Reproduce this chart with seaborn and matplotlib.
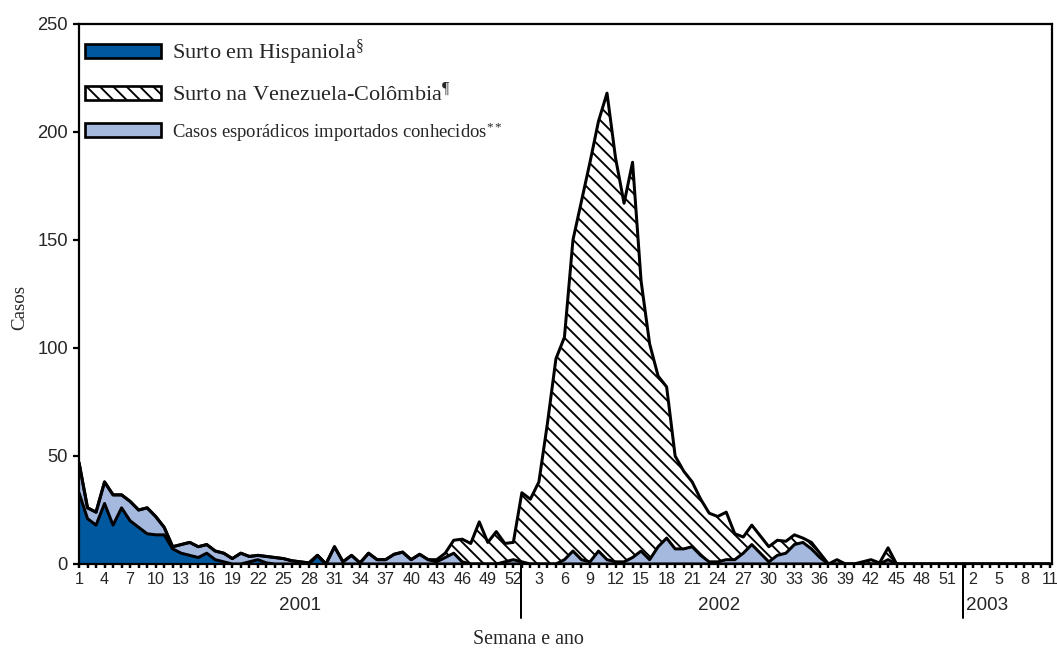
import matplotlib
matplotlib.use('Agg')
import matplotlib.pyplot as plt
import matplotlib.patches as mpatches
import matplotlib.transforms as mtransforms
import seaborn as sns
import pandas as pd
import numpy as np

# weekly cases, week 1/2001 .. week 11/2003
hisp_2001 = [33, 21, 18, 28, 18, 26, 20, 17, 14, 13.5, 13.5, 7, 5, 4, 3, 5, 2, 1, 0, 0,
             1, 2, 0.5, 0, 0, 0, 0, 0, 4, 0, 0, 0, 0, 0, 0, 0, 0, 0, 0, 0,
             0, 0, 0, 0, 0, 0, 0, 0, 0, 0, 0, 0]
spor_2001 = [14, 5, 6, 10, 14, 6, 9, 8, 12, 8.5, 3.5, 1, 4, 6, 5, 4, 4, 4, 2.5, 5,
             2.5, 2, 3, 3, 2.5, 1.5, 1, 0.5, 0, 0, 8, 1, 4, 0.5, 5, 2, 2, 4.5, 5.5, 2,
             4.5, 2, 1, 3, 5, 1, 0, 0, 0, 0, 1, 2]
ven_2001 = [0, 0, 0, 0, 0, 0, 0, 0, 0, 0, 0, 0, 0, 0, 0, 0, 0, 0, 0, 0,
            0, 0, 0, 0, 0, 0, 0, 0, 0, 0, 0, 0, 0, 0, 0, 0, 0, 0, 0, 0,
            0, 0, 1, 2, 6, 10.5, 9.5, 19.5, 10, 15, 8.5, 8]

hisp_2002 = [0, 0, 0, 0, 0, 0, 0, 0, 0, 0, 0, 0, 0, 0, 0, 0, 0, 0, 0, 0,
             0, 0, 0, 0, 0, 0, 0, 0, 0, 0, 0, 0, 0, 0, 0, 0, 0, 0, 0, 0,
             0, 0, 0, 0, 0, 0, 0, 0, 0, 0, 0, 0]
spor_2002 = [1, 0, 0, 0, 0, 2, 6, 2, 1, 6, 2, 1, 1, 3, 6, 2, 8, 12, 7, 7,
             8, 4, 1, 1, 2, 2, 5, 9, 5, 1, 4, 5, 9, 10, 7, 3, 0, 0, 0, 0,
             0, 0, 0, 2, 0, 0, 0, 0, 0, 0, 0, 0]
ven_2002 = [32, 30, 38, 65, 95, 103, 144, 166, 185, 199, 216, 187, 166, 183, 125, 100, 79, 70, 43, 36,
            30, 26, 22.5, 21, 22, 12, 7.5, 9, 8, 7, 7, 5.5, 4.5, 2, 3, 2, 0, 2, 0, 0,
            1, 2, 0.5, 5.5, 0, 0, 0, 0, 0, 0, 0, 0]

hisp_2003 = [0, 0, 0, 0, 0, 0, 0, 0, 0, 0, 0]
spor_2003 = [0, 0, 0, 0, 0, 0, 0, 0, 0, 0, 0]
ven_2003 = [0, 0, 0, 0, 0, 0, 0, 0, 0, 0, 0]

semanas = list(range(1, 53)) + list(range(1, 53)) + list(range(1, 12))
anos = ['2001', '2002', '2003']
legendas = ['Surto em Hispaniola$^{\\mathrm{§}}$',
            'Surto na Venezuela-Colômbia$^{\\mathrm{¶}}$',
            'Casos esporádicos importados conhecidos$^{**}$']

DARK = '#00589f'
LIGHT = '#a5b9df'

df = pd.DataFrame({
    'semana': semanas,
    'hisp': hisp_2001 + hisp_2002 + hisp_2003,
    'spor': spor_2001 + spor_2002 + spor_2003,
    'ven': ven_2001 + ven_2002 + ven_2003,
})
df['idx'] = np.arange(len(df))
df['c1'] = df['hisp']
df['c2'] = df['c1'] + df['spor']
df['c3'] = df['c2'] + df['ven']

sns.set_theme(style='ticks')
plt.rcParams['font.family'] = ['Liberation Sans', 'DejaVu Sans']
plt.rcParams['hatch.linewidth'] = 1.7
plt.rcParams['mathtext.fontset'] = 'custom'
plt.rcParams['mathtext.rm'] = 'Liberation Serif'
plt.rcParams['mathtext.it'] = 'Liberation Serif:italic'
plt.rcParams['mathtext.bf'] = 'Liberation Serif:bold'

fig = plt.figure(figsize=(1057 / 80, 650 / 80), dpi=80)
ax = fig.add_axes([79 / 1057, 86 / 650, 973 / 1057, 540 / 650])

x = df['idx'].values
ax.fill_between(x, 0, df['c1'], facecolor=DARK, linewidth=0)
ax.fill_between(x, df['c1'], df['c2'], facecolor=LIGHT, linewidth=0)
ax.fill_between(x, df['c2'], df['c3'], facecolor='white', hatch='\\\\',
                edgecolor='black', linewidth=0)

#outlines of each stacked layer
for col in ['c1', 'c2', 'c3']:
    sns.lineplot(data=df, x='idx', y=col, color='black', linewidth=2.7, ax=ax)

ax.set_xlim(0, 114.25)
ax.set_ylim(0, 250)
ax.set_xticks(x[::3])
ax.set_xticklabels([str(s) for s in df['semana'].values[::3]])
ax.set_xticks(x, minor=True)
ax.tick_params(axis='x', which='both', direction='out', length=4, width=2.2,
               color='black', pad=3)
for lbl in ax.get_xticklabels():
    lbl.set_fontfamily(['Liberation Sans Narrow', 'Liberation Sans'])
    lbl.set_fontsize(14.5)
ax.set_yticks(range(0, 251, 50))
ax.tick_params(axis='y', direction='out', length=5, width=2, color='black',
               labelsize=16.5, pad=5)
ax.set_xlabel('')
ax.set_ylabel('')
for s in ax.spines.values():
    s.set_linewidth(2)
    s.set_color('black')
    s.set_visible(True)

#year separators and labels under the week axis
trans = mtransforms.blended_transform_factory(ax.transData, ax.transAxes)
for xd in [51.85, 103.8]:
    ax.plot([xd, xd], [0, -0.1], transform=trans, color='black', lw=1.8,
            clip_on=False)
ax.text(25.9, -0.077, anos[0], transform=trans, ha='center', va='center', fontsize=17)
ax.text(75.2, -0.077, anos[1], transform=trans, ha='center', va='center', fontsize=17)
ax.text(104.1, -0.077, anos[2], transform=trans, ha='left', va='center', fontsize=17)

fig.text(528 / 1057, 1 - 639 / 650, 'Semana e ano', family='Liberation Serif',
         fontsize=18, ha='center', va='center')
fig.text(20 / 1057, 1 - 308 / 650, 'Casos', family='Liberation Serif',
         fontsize=17, rotation=90, ha='center', va='center')

handles = [
    mpatches.Patch(facecolor=DARK, edgecolor='black', linewidth=2.4),
    mpatches.Patch(facecolor='white', edgecolor='black', hatch='\\\\', linewidth=2.4),
    mpatches.Patch(facecolor=LIGHT, edgecolor='black', linewidth=2.4),
]
leg = ax.legend(handles, legendas, loc='upper left',
                bbox_to_anchor=(6 / 973, 1 - 14 / 540), frameon=False,
                handlelength=3.4, handleheight=0.55, handletextpad=0.5,
                labelspacing=0.65, borderpad=0, borderaxespad=0,
                prop={'family': 'Liberation Serif', 'size': 20})
leg.get_texts()[2].set_fontsize(16.8)

fig.savefig('out.png', dpi=80)
